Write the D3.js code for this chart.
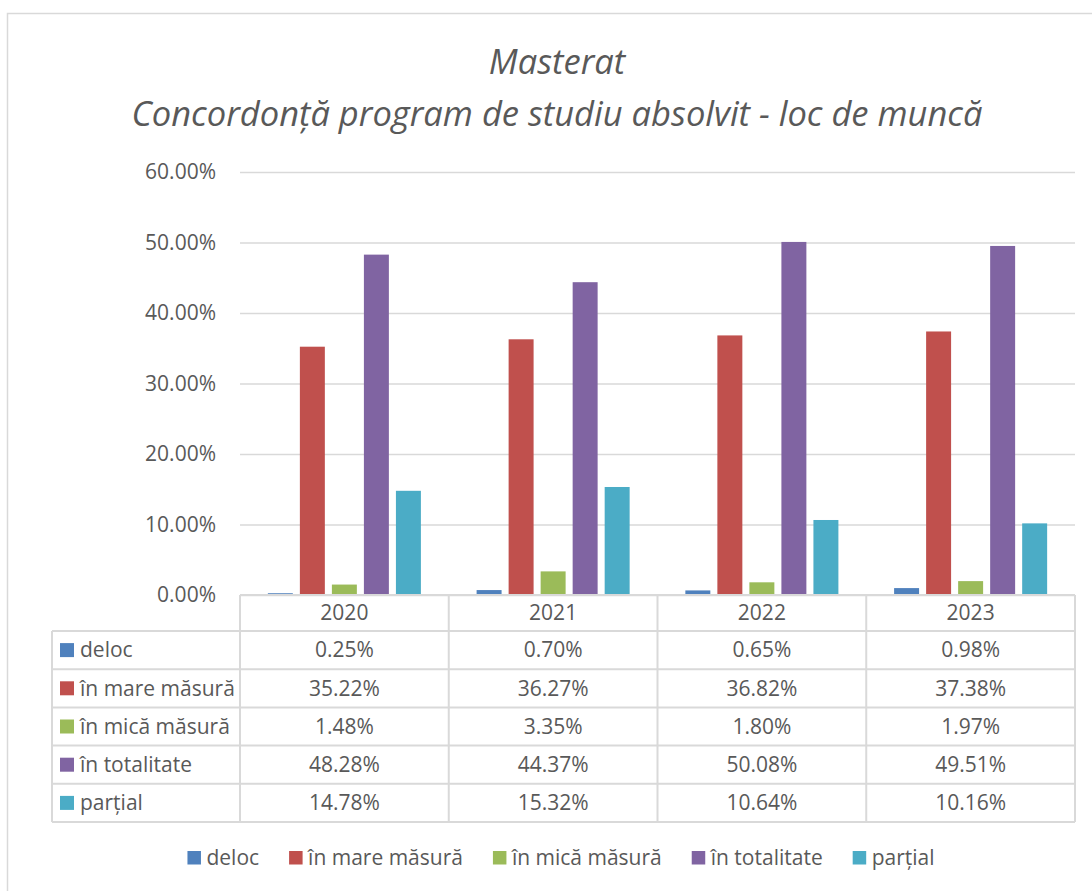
<!DOCTYPE html>
<html>
<head>
<meta charset="utf-8">
<script src="https://cdn.jsdelivr.net/npm/d3@7"></script>
<style>
  html, body { margin: 0; padding: 0; background: #ffffff; }
  svg { display: block; }
  text { font-family: "Open Sans", "Noto Sans", sans-serif; fill: #595959; }
</style>
</head>
<body>
<svg id="chart" width="1092" height="891"></svg>
<script>
const titleLines = ["Masterat", "Concordonță program de studiu absolvit - loc de muncă"];
const years = ["2020", "2021", "2022", "2023"];
const seriesNames = ["deloc", "în mare măsură", "în mică măsură", "în totalitate", "parțial"];
const seriesColors = ["#4F81BD", "#C0504D", "#9BBB59", "#8064A2", "#4BACC6"];
const deloc = [0.25, 0.70, 0.65, 0.98];
const inMareMasura = [35.22, 36.27, 36.82, 37.38];
const inMicaMasura = [1.48, 3.35, 1.80, 1.97];
const inTotalitate = [48.28, 44.37, 50.08, 49.51];
const partial = [14.78, 15.32, 10.64, 10.16];
const yTicks = [0, 10, 20, 30, 40, 50, 60];

const seriesValues = [deloc, inMareMasura, inMicaMasura, inTotalitate, partial];
const series = seriesNames.map((name, i) => ({ name, color: seriesColors[i], values: seriesValues[i] }));

const svg = d3.select("#chart");
const grid = "#D9D9D9";

// outer chart border
svg.append("path").attr("d", "M7.5,891 L7.5,13.5 L1092,13.5")
  .attr("fill", "none").attr("stroke", grid).attr("stroke-width", 1.5);

// title
svg.append("text").attr("x", 557).attr("y", 74).attr("text-anchor", "middle")
  .style("font-size", "34.5px").style("font-style", "italic").text(titleLines[0]);
svg.append("text").attr("x", 557).attr("y", 126).attr("text-anchor", "middle")
  .style("font-size", "34.5px").style("font-style", "italic").text(titleLines[1]);

const plotLeft = 240, plotRight = 1075, plotTop = 172, plotBottom = 595;
const x = d3.scaleBand().domain(years).range([plotLeft, plotRight]).padding(0);
const xi = d3.scaleBand().domain(seriesNames).range([0, x.bandwidth()])
  .paddingInner(0.22).paddingOuter(0.87);
const y = d3.scaleLinear().domain([0, 60]).range([plotBottom, plotTop]);

// gridlines + y labels
const yAxis = d3.axisLeft(y).tickValues(yTicks)
  .tickSize(-(plotRight - plotLeft)).tickPadding(24)
  .tickFormat(d => d.toFixed(2) + "%");
const gy = svg.append("g").attr("transform", `translate(${plotLeft},0)`).call(yAxis);
gy.select(".domain").remove();
gy.selectAll(".tick line").attr("stroke", grid).attr("stroke-width", 1.5);
gy.selectAll(".tick text").style("font-size", "21px").attr("fill", "#595959")
  .style("font-family", '"Open Sans", sans-serif');

// bars
const groups = svg.append("g").selectAll("g").data(series).join("g").attr("fill", d => d.color);
groups.selectAll("rect").data(s => s.values.map((v, j) => ({ s, v, year: years[j] })))
  .join("rect")
  .attr("x", d => x(d.year) + xi(d.s.name))
  .attr("width", xi.bandwidth())
  .attr("y", d => y(d.v))
  .attr("height", d => y(0) - y(d.v));

// data table
const tableLeft = 52, headerBottom = 631, rowH = 38.2;
const rowY = i => headerBottom + i * rowH;
const tableBottom = rowY(series.length);
const tbl = svg.append("g").attr("stroke", grid).attr("stroke-width", 2).attr("fill", "none");
tbl.append("line").attr("x1", plotLeft).attr("x2", plotRight).attr("y1", plotBottom).attr("y2", plotBottom);
for (let i = 0; i <= series.length; i++) {
  tbl.append("line").attr("x1", tableLeft).attr("x2", plotRight).attr("y1", rowY(i)).attr("y2", rowY(i));
}
tbl.append("line").attr("x1", tableLeft).attr("x2", tableLeft).attr("y1", headerBottom).attr("y2", tableBottom);
[...years.map(yr => x(yr)), plotRight].forEach(xx => {
  tbl.append("line").attr("x1", xx).attr("x2", xx).attr("y1", plotBottom).attr("y2", tableBottom);
});

// header
svg.append("g").selectAll("text").data(years).join("text")
  .attr("x", d => x(d) + x.bandwidth() / 2).attr("y", (plotBottom + headerBottom) / 2)
  .attr("dy", "0.35em").attr("text-anchor", "middle").style("font-size", "21px").text(d => d);

// rows
series.forEach((s, i) => {
  const cy = rowY(i) + rowH / 2;
  svg.append("rect").attr("x", 60).attr("y", cy - 7).attr("width", 14).attr("height", 14).attr("fill", s.color);
  svg.append("text").attr("x", 80).attr("y", cy).attr("dy", "0.35em").style("font-size", "21px").text(s.name);
  s.values.forEach((v, j) => {
    svg.append("text").attr("x", x(years[j]) + x.bandwidth() / 2).attr("y", cy).attr("dy", "0.35em")
      .attr("text-anchor", "middle").style("font-size", "21px").text(v.toFixed(2) + "%");
  });
});

// legend
const legend = svg.append("g");
let lx = 0;
series.forEach((s, i) => {
  const g = legend.append("g").attr("transform", `translate(${lx},0)`);
  g.append("rect").attr("x", 0).attr("y", -7).attr("width", 13.5).attr("height", 13.5).attr("fill", s.color);
  const t = g.append("text").attr("x", 19).attr("y", 0).attr("dy", "0.35em").style("font-size", "21px").text(s.name);
  lx += 19 + t.node().getComputedTextLength() + 30;
});
const legendW = lx - 30;
legend.attr("transform", `translate(${561 - legendW / 2},858)`);
</script>
</body>
</html>
